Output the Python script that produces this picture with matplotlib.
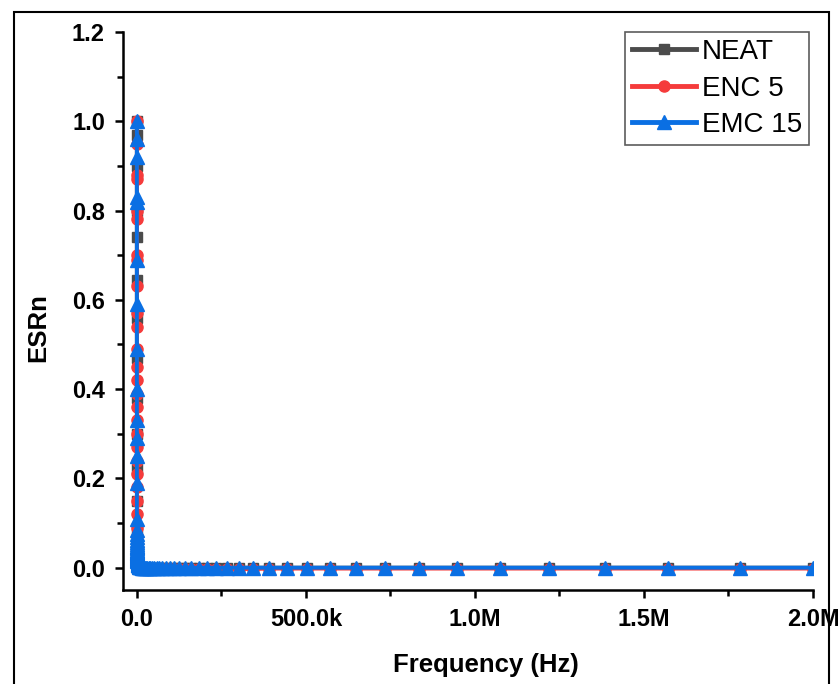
import matplotlib.pyplot as plt
from matplotlib.patches import Rectangle
from matplotlib.ticker import FixedLocator, MultipleLocator

plt.rcParams['font.family'] = ['Liberation Sans', 'DejaVu Sans']

# Frequenzen (Hz), log-Sweep
freq = [20, 22.7, 25.8, 29.3, 33.2, 37.7, 42.8, 48.6, 55.1, 62.6,
        71.0, 80.6, 91.5, 104, 118, 134, 152, 172, 196, 222,
        252, 286, 325, 369, 418, 475, 539, 612, 694, 788,
        894, 1015, 1152, 1308, 1484, 1685, 1912, 2170, 2463, 2796,
        3173, 3602, 4088, 4640, 5266, 5977, 6784, 7700, 8740, 9920,
        11259, 12779, 14504, 16462, 18685, 21207, 24070, 27320, 31008, 35194,
        39945, 45337, 51458, 58405, 66290, 75239, 85396, 96924, 110000, 124850,
        141700, 160840, 182550, 207190, 235160, 266900, 302940, 343840, 390260, 442940,
        502740, 570610, 647640, 735070, 834310, 946940, 1074800, 1219900, 1384600, 1571500,
        1783600, 2000000]

esr_neat = [1.0, 0.97, 0.90, 0.80, 0.74, 0.645, 0.56, 0.47, 0.38, 0.30,
            0.22, 0.15, 0.09, 0.06, 0.05, 0.045, 0.04, 0.036, 0.032, 0.029,
            0.026, 0.023, 0.021, 0.019, 0.017, 0.015, 0.013, 0.012, 0.011, 0.01,
            0.009, 0.008, 0.007, 0.006, 0.005, 0.0045, 0.004, 0.0035, 0.003, 0.0025,
            0.002, 0.0018, 0.0015, 0.0012, 0.001, 0.0008, 0.0006, 0.0005, 0.0004, 0.0003,
            0.0002, 0.0001, 0.0, 0.0, 0.0, 0.0, 0.0, 0.0, 0.0, 0.0,
            0.0, 0.0, 0.0, 0.0, 0.0, 0.0, 0.0, 0.0, 0.0, 0.0,
            0.0, 0.0, 0.0, 0.0, 0.0, 0.0, 0.0, 0.0, 0.0, 0.0,
            0.0, 0.0, 0.0, 0.0, 0.0, 0.0, 0.0, 0.0, 0.0, 0.0,
            0.0, 0.0]

esr_enc5 = [1.0, 0.95, 0.88, 0.87, 0.80, 0.78, 0.70, 0.69, 0.63, 0.57,
            0.54, 0.49, 0.45, 0.42, 0.39, 0.36, 0.33, 0.30, 0.27, 0.24,
            0.21, 0.18, 0.15, 0.12, 0.09, 0.07, 0.055, 0.045, 0.038, 0.032,
            0.027, 0.023, 0.019, 0.016, 0.013, 0.011, 0.009, 0.007, 0.006, 0.005,
            0.004, 0.003, 0.002, 0.001, 0.0, -0.001, -0.002, -0.002, -0.003, -0.003,
            -0.003, -0.003, -0.003, -0.003, -0.003, -0.003, -0.003, -0.003, -0.003, -0.003,
            -0.003, -0.003, -0.003, -0.003, -0.003, -0.003, -0.003, -0.003, -0.003, -0.003,
            -0.003, -0.003, -0.003, -0.003, -0.003, -0.003, -0.003, -0.003, -0.002, -0.002,
            -0.002, -0.002, -0.002, -0.002, -0.002, -0.002, -0.002, -0.002, -0.002, -0.002,
            -0.002, -0.002]

esr_emc15 = [1.0, 0.96, 0.92, 0.83, 0.82, 0.69, 0.59, 0.49, 0.40, 0.33,
             0.29, 0.25, 0.19, 0.11, 0.085, 0.075, 0.068, 0.062, 0.057, 0.053,
             0.049, 0.046, 0.043, 0.040, 0.038, 0.036, 0.034, 0.032, 0.030, 0.028,
             0.026, 0.024, 0.022, 0.020, 0.018, 0.016, 0.014, 0.012, 0.010, 0.009,
             0.008, 0.007, 0.006, 0.005, 0.004, 0.0035, 0.003, 0.0025, 0.002, 0.0015,
             0.001, 0.0008, 0.0005, 0.0003, 0.0001, 0.0, 0.0, 0.0, 0.0, 0.0,
             0.0, 0.0, 0.0, 0.0, 0.0, 0.0, 0.0, 0.0, 0.0, 0.0,
             0.0, 0.0, 0.0, 0.0, 0.0, 0.0, 0.0, 0.0, 0.0, 0.0,
             0.0, 0.0, 0.0, 0.0, 0.0, 0.0, 0.0, 0.0, 0.0, 0.0,
             0.0, 0.0]

x_ticks = [0, 500000, 1000000, 1500000, 2000000]
x_ticklabels = ['0.0', '500.0k', '1.0M', '1.5M', '2.0M']

fig = plt.figure(figsize=(8.38, 6.84), dpi=100)
ax = fig.add_axes([123 / 838, 1 - 590 / 684, 690 / 838, 558 / 684])

# Rahmen um die ganze Abbildung
fig.patches.append(Rectangle((14 / 838, -0.05), 815 / 838, 1.05 - 12 / 684,
                             transform=fig.transFigure, fill=False,
                             edgecolor='black', linewidth=1.5, zorder=0))

ax.plot(freq, esr_neat, color='#4b4b4b', marker='s', markersize=6.5, linewidth=2.8, label='NEAT')
ax.plot(freq, esr_enc5, color='#f53b3b', marker='o', markersize=8, linewidth=2.8, label='ENC 5')
ax.plot(freq, esr_emc15, color='#0a6fe3', marker='^', markersize=10, linewidth=2.8, label='EMC 15')

ax.set_xlim(-41000, 2000000)
ax.set_ylim(-0.05, 1.2)
ax.xaxis.set_major_locator(FixedLocator(x_ticks))
ax.set_xticklabels(x_ticklabels)
ax.xaxis.set_minor_locator(MultipleLocator(250000))
ax.yaxis.set_major_locator(MultipleLocator(0.2))
ax.yaxis.set_minor_locator(MultipleLocator(0.1))
ax.yaxis.set_major_formatter(plt.FuncFormatter(lambda v, p: f'{v:.1f}'))

for s in ['top', 'right']:
    ax.spines[s].set_visible(False)
for s in ['left', 'bottom']:
    ax.spines[s].set_linewidth(1.8)

ax.tick_params(which='major', direction='out', length=6, width=1.8, pad=7, labelsize=17)
ax.tick_params(which='minor', direction='out', length=4, width=1.8)
for lbl in ax.get_xticklabels() + ax.get_yticklabels():
    lbl.set_fontweight('bold')

ax.set_xlabel('Frequency (Hz)', fontsize=18.5, fontweight='bold')
ax.set_ylabel('ESRn', fontsize=18.5, fontweight='bold')
ax.xaxis.set_label_coords(0.526, -0.113)
ax.yaxis.set_label_coords(-0.105, 0.47)

leg = ax.legend(loc='upper right', bbox_to_anchor=(1.0 - 4 / 690, 1.0), fontsize=20,
                frameon=True, fancybox=False, handlelength=2.3, handletextpad=0.2,
                borderpad=0.25, labelspacing=0.38, borderaxespad=0.0)
leg.get_frame().set_edgecolor('#333333')
leg.get_frame().set_linewidth(1.2)
for line in leg.get_lines():
    line.set_linewidth(3.5)

plt.savefig('out.png', dpi=100)
